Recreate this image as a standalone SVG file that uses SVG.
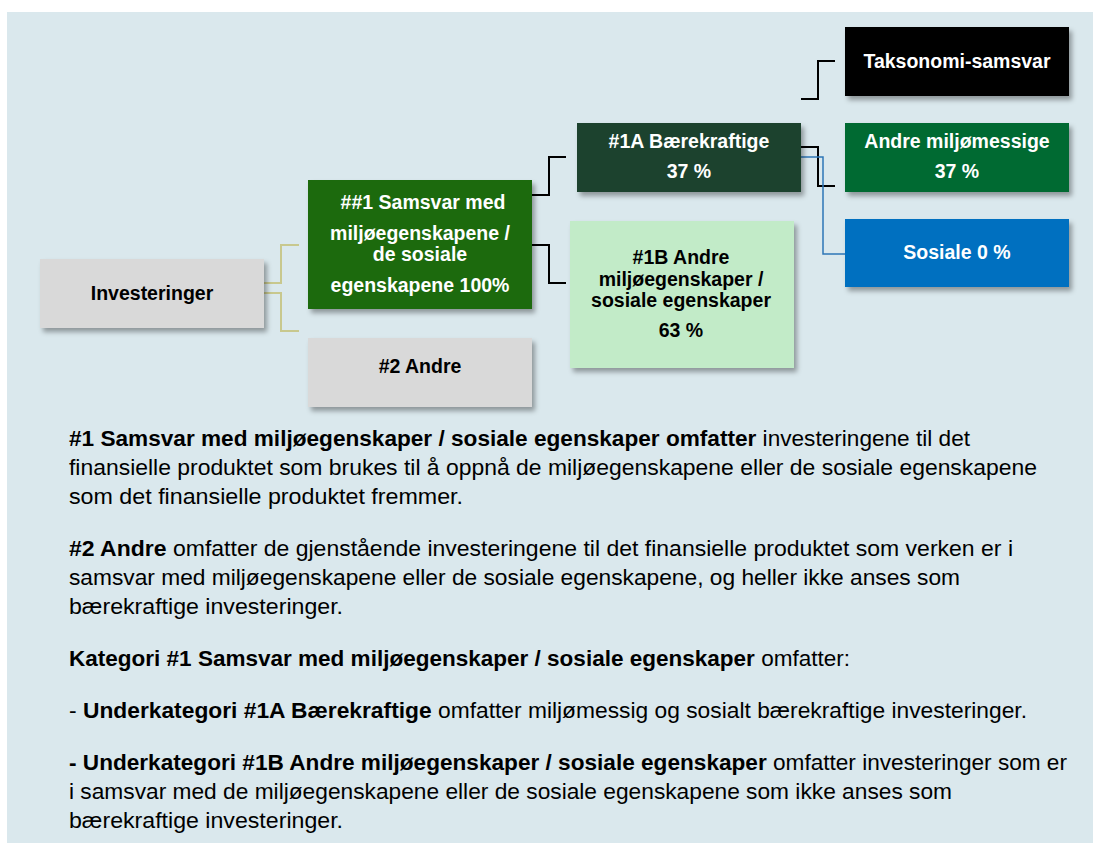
<svg xmlns="http://www.w3.org/2000/svg" width="1094" height="843" viewBox="0 0 1094 843">
<defs>
<filter id="sh" x="-10%" y="-10%" width="130%" height="140%">
<feDropShadow dx="3" dy="4" stdDeviation="2.5" flood-color="#000" flood-opacity="0.35"/>
</filter>
<style>
.n{font-family:"Liberation Sans",Arial,sans-serif;font-size:19.5px;font-weight:bold;text-anchor:middle}
.w{fill:#fff}
.k{fill:#000}
.b{font-family:"Liberation Sans",Arial,sans-serif;font-size:22.5px;fill:#000}
.bb{font-weight:bold}
.c{fill:none;stroke:#000;stroke-width:2}
.o{fill:none;stroke:#c8c88e;stroke-width:2}
.bl{fill:none;stroke:#2e75b6;stroke-width:1.5}
</style>
</defs>
<rect x="0" y="0" width="1094" height="843" fill="#fff"/>
<rect x="7" y="12" width="1086" height="831" fill="#dae8ed"/>

<g id="connectors">
<path class="o" d="M264,283 H281 V245 H299"/>
<path class="o" d="M264,293 H281 V331 H299"/>
<path class="c" d="M532,195 H549 V157 H566"/>
<path class="c" d="M532,245 H549 V283 H566"/>
<path class="c" d="M801,99 H818 V61 H835"/>
<path class="c" d="M801,147 H818 V186 H835"/>
<path class="bl" d="M801,157 H823 V254 H845"/>
</g>

<g id="investeringer">
<rect x="40" y="259" width="224" height="69" fill="#d9d9d9" filter="url(#sh)"/>
<text class="n k" x="152" y="300">Investeringer</text>
</g>

<g id="samsvar">
<rect x="308" y="180" width="224" height="129" fill="#1a6b0e" filter="url(#sh)"/>
<text class="n w" x="423" y="209">##1 Samsvar med</text>
<text class="n w" x="420" y="240">miljøegenskapene /</text>
<text class="n w" x="420" y="261">de sosiale</text>
<text class="n w" x="420" y="292">egenskapene 100%</text>
</g>

<g id="andre2">
<rect x="308" y="338" width="224" height="69" fill="#d9d9d9" filter="url(#sh)"/>
<text class="n k" x="420" y="373">#2 Andre</text>
</g>

<g id="baerekraftige">
<rect x="577" y="123" width="224" height="69" fill="#1e432d" filter="url(#sh)"/>
<text class="n w" x="689" y="148">#1A Bærekraftige</text>
<text class="n w" x="689" y="178">37 %</text>
</g>

<g id="andre1b">
<rect x="570" y="221" width="224" height="147" fill="#c2ebc8" filter="url(#sh)"/>
<text class="n k" x="681" y="264">#1B Andre</text>
<text class="n k" x="681" y="286">miljøegenskaper /</text>
<text class="n k" x="681" y="307">sosiale egenskaper</text>
<text class="n k" x="681" y="337">63 %</text>
</g>

<g id="taksonomi">
<rect x="845" y="27" width="224" height="69" fill="#000" filter="url(#sh)"/>
<text class="n w" x="957" y="68">Taksonomi-samsvar</text>
</g>

<g id="miljomessige">
<rect x="845" y="123" width="224" height="69" fill="#006b30" filter="url(#sh)"/>
<text class="n w" x="957" y="148">Andre miljømessige</text>
<text class="n w" x="957" y="178">37 %</text>
</g>

<g id="sosiale">
<rect x="845" y="219" width="224" height="68" fill="#0070c0" filter="url(#sh)"/>
<text class="n w" x="957" y="259">Sosiale 0 %</text>
</g>

<g id="legend">
<text class="b" x="69" y="446" textLength="901" lengthAdjust="spacingAndGlyphs"><tspan class="bb">#1 Samsvar med miljøegenskaper / sosiale egenskaper omfatter</tspan> investeringene til det</text>
<text class="b" x="69" y="475" textLength="968" lengthAdjust="spacingAndGlyphs">finansielle produktet som brukes til å oppnå de miljøegenskapene eller de sosiale egenskapene</text>
<text class="b" x="69" y="504" textLength="394" lengthAdjust="spacingAndGlyphs">som det finansielle produktet fremmer.</text>
<text class="b" x="69" y="556" textLength="944" lengthAdjust="spacingAndGlyphs"><tspan class="bb">#2 Andre</tspan> omfatter de gjenstående investeringene til det finansielle produktet som verken er i</text>
<text class="b" x="69" y="585" textLength="891" lengthAdjust="spacingAndGlyphs">samsvar med miljøegenskapene eller de sosiale egenskapene, og heller ikke anses som</text>
<text class="b" x="69" y="614" textLength="274" lengthAdjust="spacingAndGlyphs">bærekraftige investeringer.</text>
<text class="b" x="69" y="666" textLength="781" lengthAdjust="spacingAndGlyphs"><tspan class="bb">Kategori #1 Samsvar med miljøegenskaper / sosiale egenskaper</tspan> omfatter:</text>
<text class="b" x="69" y="718" textLength="958" lengthAdjust="spacingAndGlyphs">- <tspan class="bb">Underkategori #1A Bærekraftige</tspan> omfatter miljømessig og sosialt bærekraftige investeringer.</text>
<text class="b" x="69" y="770" textLength="998" lengthAdjust="spacingAndGlyphs"><tspan class="bb">- Underkategori #1B Andre miljøegenskaper / sosiale egenskaper</tspan> omfatter investeringer som er</text>
<text class="b" x="69" y="799" textLength="883" lengthAdjust="spacingAndGlyphs">i samsvar med de miljøegenskapene eller de sosiale egenskapene som ikke anses som</text>
<text class="b" x="69" y="828" textLength="274" lengthAdjust="spacingAndGlyphs">bærekraftige investeringer.</text>
</g>
</svg>
